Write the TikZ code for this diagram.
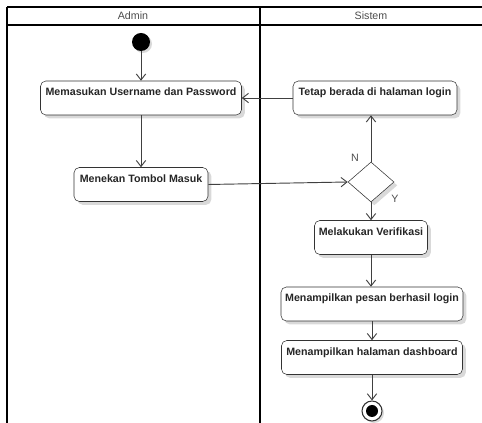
\documentclass[tikz,border=0pt]{standalone}
\usepackage{fontspec}
\setmainfont{Liberation Sans}
\usetikzlibrary{shapes.geometric,shadows,arrows.meta}
\tikzset{act/.style={draw=black!80, fill=white, rounded corners=4pt,
         minimum width=#1*0.75pt, minimum height=25.5pt,
         inner xsep=2pt, inner ysep=3pt, text height=8.25pt, text depth=11.25pt,
         font=\fontsize{8}{10}\selectfont\bfseries, text=black!85,
         drop shadow={shadow xshift=2.5pt, shadow yshift=-2.5pt, opacity=.3}},
         decision/.style={diamond, draw=black!80, fill=white,
         minimum width=34.5pt, minimum height=30pt, inner sep=0pt,
         drop shadow={shadow xshift=2.5pt, shadow yshift=-2.5pt, opacity=.3}},
         initial/.style={circle, fill=black, minimum size=13.5pt, inner sep=0pt,
         drop shadow={shadow xshift=1.5pt, shadow yshift=-1.5pt, opacity=.3}},
         final/.style={circle, draw=black!80, fill=white, line width=.8pt,
         minimum size=15pt, inner sep=0pt,
         drop shadow={shadow xshift=1.5pt, shadow yshift=-1.5pt, opacity=.3}},
         lane/.style={line width=1.3pt},
         flow/.style={draw=black!75, line width=.7pt,
         -{Straight Barb[length=4.5pt,width=7pt]}},
         guard/.style={font=\fontsize{8}{10}\selectfont, text=black!70}}

\begin{document}
\begin{tikzpicture}[x=0.75pt,y=-0.75pt]
  \useasboundingbox (0,0) rectangle (482,423);
  % swimlanes
  \draw[lane] (7,7) -- (482,7);
  \draw[lane] (7,25) -- (482,25);
  \draw[lane] (7,7) -- (7,423);
  \draw[lane] (260,7) -- (260,423);
  \node[guard] (admin) at (133,16) {Admin};
  \node[guard] (sistem) at (371,16) {Sistem};

  \node[initial] (start) at (141,42) {};
  \node[act=201] (input) at (141,98) {Memasukan Username dan Password};
  \node[act=164] (stay) at (375,98) {Tetap berada di halaman login};
  \node[act=134] (press) at (141,184.5) {Menekan Tombol Masuk};
  \node[decision] (check) at (371,182) {};
  \node[act=113] (verify) at (371,237.5) {Melakukan Verifikasi};
  \node[act=182] (success) at (372,304) {Menampilkan pesan berhasil login};
  \node[act=181] (dashboard) at (372,357.5) {Menampilkan halaman dashboard};
  \node[final] (end) at (372,411) {};
  \fill (end) circle (4.5pt);

  \node[guard] (no) at (355,158) {N};
  \node[guard] (yes) at (395,199) {Y};

  \draw[flow] (start) -- (input);
  \draw[flow] (input) -- (press);
  \draw[flow] (press.east) -- (check.west);
  \draw[flow] (check.north) -- (check.north |- stay.south);
  \draw[flow] (stay) -- (input);
  \draw[flow] (check.south) -- (check.south |- verify.north);
  \draw[flow] (verify.south) -- (verify.south |- success.north);
  \draw[flow] (success) -- (dashboard);
  \draw[flow] (dashboard) -- (end);
\end{tikzpicture}
\end{document}
